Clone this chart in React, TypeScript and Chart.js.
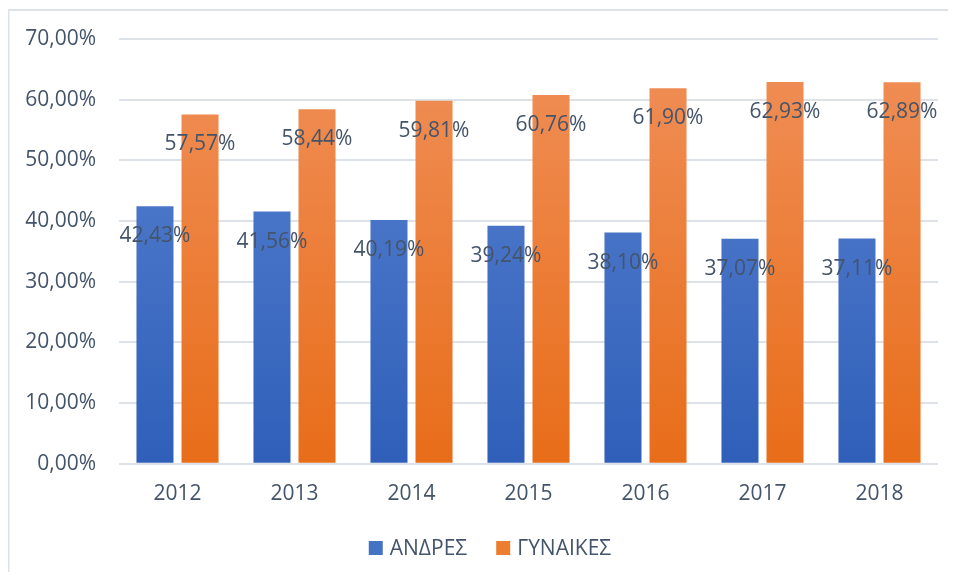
import React, { useEffect, useRef } from "react";
import { Chart, registerables } from "chart.js";

Chart.register(...registerables);

const years = ["2012", "2013", "2014", "2015", "2016", "2017", "2018"];
const men = [42.43, 41.56, 40.19, 39.24, 38.1, 37.07, 37.11];
const women = [57.57, 58.44, 59.81, 60.76, 61.9, 62.93, 62.89];
const seriesNames = ["ΑΝΔΡΕΣ", "ΓΥΝΑΙΚΕΣ"];
const legendColors = ["#4472c4", "#ed7d31"];

const TEXT = "#44546a";
const FONT = "'Open Sans', sans-serif";

const fmt = (v: number) => v.toFixed(2).replace(".", ",") + "%";

function grad(ctx: any, top: string, bottom: string, solid: string) {
  const chart = ctx.chart;
  const area = chart.chartArea;
  if (!area) return solid;
  const g = chart.ctx.createLinearGradient(0, area.top, 0, area.bottom);
  g.addColorStop(0, top);
  g.addColorStop(1, bottom);
  return g;
}

const labelPlugin = {
  id: "valueLabels",
  afterDatasetsDraw(chart: any) {
    const c = chart.ctx;
    c.save();
    c.font = `21px ${FONT}`;
    c.fillStyle = TEXT;
    c.textAlign = "center";
    c.textBaseline = "middle";
    chart.data.datasets.forEach((ds: any, i: number) => {
      const meta = chart.getDatasetMeta(i);
      meta.data.forEach((el: any, j: number) => {
        c.fillText(fmt(ds.data[j]), el.x, el.y + 30);
      });
    });
    c.restore();
  },
};

const legendPlugin = {
  id: "customLegend",
  afterDraw(chart: any) {
    const c = chart.ctx;
    c.save();
    c.font = `21px ${FONT}`;
    c.textBaseline = "middle";
    c.textAlign = "left";
    const box = 14;
    const gapText = 7;
    const gapItem = 29;
    const widths = seriesNames.map((t) => c.measureText(t).width);
    const total = widths.reduce((a, w) => a + box + gapText + w, 0) + gapItem * (seriesNames.length - 1);
    let x = chart.width / 2 + 8 - total / 2;
    const y = chart.height - 24;
    seriesNames.forEach((t, i) => {
      c.fillStyle = legendColors[i];
      c.fillRect(x, y - box / 2, box, box);
      c.fillStyle = TEXT;
      c.fillText(t, x + box + gapText, y + 1);
      x += box + gapText + widths[i] + gapItem;
    });
    c.restore();
  },
};

const framePlugin = {
  id: "frame",
  beforeDraw(chart: any) {
    const c = chart.ctx;
    c.save();
    c.strokeStyle = "#dde1e8";
    c.lineWidth = 2;
    c.beginPath();
    c.moveTo(0.5, chart.height + 10);
    c.lineTo(0.5, 2);
    c.lineTo(chart.width + 10, 2);
    c.stroke();
    c.restore();
  },
};

export default function App() {
  const ref = useRef<HTMLCanvasElement | null>(null);
  useEffect(() => {
    if (!ref.current) return;
    const chart = new Chart(ref.current, {
      type: "bar",
      data: {
        labels: years,
        datasets: [
          {
            label: seriesNames[0],
            data: men,
            backgroundColor: (ctx: any) => grad(ctx, "#5b84d2", "#2f5fb9", legendColors[0]),
            barPercentage: 0.822,
            categoryPercentage: 0.77,
          },
          {
            label: seriesNames[1],
            data: women,
            backgroundColor: (ctx: any) => grad(ctx, "#f0905a", "#e86d19", legendColors[1]),
            barPercentage: 0.822,
            categoryPercentage: 0.77,
          },
        ],
      },
      options: {
        animation: false,
        responsive: true,
        maintainAspectRatio: false,
        layout: { padding: { left: 0, right: 18, top: 31, bottom: 55 } },
        plugins: {
          tooltip: { enabled: false },
          legend: { display: false },
        },
        scales: {
          x: {
            grid: { display: false },
            border: { display: false },
            ticks: { color: TEXT, font: { family: FONT, size: 21 }, padding: 10 },
          },
          y: {
            min: 0,
            max: 70,
            border: { display: false },
            grid: { color: "#dde1e8", lineWidth: 2, drawTicks: false },
            ticks: {
              stepSize: 10,
              color: TEXT,
              padding: 23,
              font: { family: FONT, size: 21 },
              callback: (v: any) => fmt(Number(v)),
            },
            afterFit: (scale: any) => {
              scale.width = 111;
              scale.paddingTop = 0;
              scale.paddingBottom = 0;
            },
          },
        },
      },
      plugins: [labelPlugin, legendPlugin, framePlugin],
    });
    return () => chart.destroy();
  }, []);
  return (
    <div style={{ width: 948, height: 564, position: "relative" }}>
      <canvas ref={ref} />
    </div>
  );
}
